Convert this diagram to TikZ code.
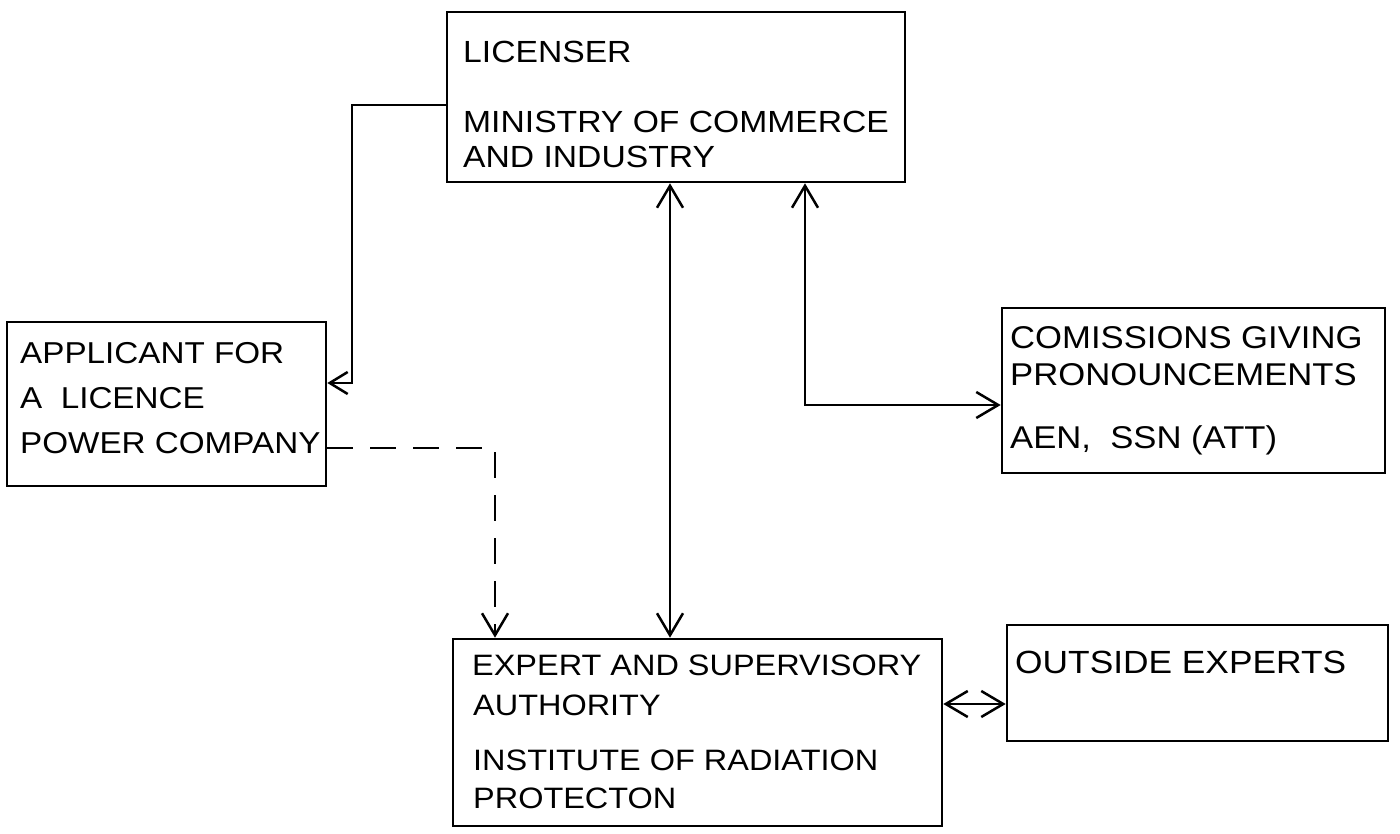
\documentclass[tikz,border=0pt]{standalone}
\usepackage{fontspec}
\newfontfamily\lett{Liberation Sans}[FakeStretch=1.1]
\usetikzlibrary{arrows.meta}
\begin{document}
\begin{tikzpicture}[x=1pt,y=-1pt,
  box/.style={draw, line width=2.6pt, inner sep=0pt, rectangle},
  lbl/.style={anchor=base west, inner sep=0pt, font=\lett\fontsize{#1}{#1}\selectfont},
  conn/.style={line width=2.5pt},
  >={Straight Barb[length=22pt,width=26pt]},
  dashline/.style={line width=2.5pt, dash pattern=on 26pt off 17pt}]
\useasboundingbox (0,0) rectangle (1400,834);
% boxes
\node[box, minimum width=458pt, minimum height=170pt] (lic) at (676,97) {};
\node[box, minimum width=319pt, minimum height=164pt] (app) at (166.5,404) {};
\node[box, minimum width=383pt, minimum height=165pt] (com) at (1193.5,390.5) {};
\node[box, minimum width=489pt, minimum height=187pt] (exp) at (697.5,732.5) {};
\node[box, minimum width=381pt, minimum height=116pt] (out) at (1197.5,683) {};
% texts
\node[lbl=30.6] (licA) at (463,63) {LICENSER};
\node[lbl=30.6] (licB) at (463,133) {MINISTRY OF COMMERCE};
\node[lbl=30.6] (licC) at (463,168) {AND INDUSTRY};
\node[lbl=30.2] (appA) at (20,363) {APPLICANT FOR};
\node[lbl=30.2] (appB) at (20,408) {A\ \ LICENCE};
\node[lbl=30.2] (appC) at (20,453) {POWER COMPANY};
\node[lbl=31.5] (comA) at (1010,348) {COMISSIONS GIVING};
\node[lbl=31.5] (comB) at (1010,385) {PRONOUNCEMENTS};
\node[lbl=31.5] (comC) at (1010,448) {AEN,\ \ SSN (ATT)};
\node[lbl=29.5] (expA) at (472,675) {EXPERT AND SUPERVISORY};
\node[lbl=29.5] (expB) at (473,715) {AUTHORITY};
\node[lbl=29.5] (expC) at (473,770) {INSTITUTE OF RADIATION};
\node[lbl=29.5] (expD) at (473,808) {PROTECTON};
\node[lbl=32.1] (outA) at (1015,673) {OUTSIDE EXPERTS};
% connector corners
\coordinate (c1) at (352,105);
\coordinate (c2) at (352,383);
\coordinate (d1) at (495,448);
\coordinate (m1) at (670,400);
\coordinate (r1) at (805,405);
\coordinate (e1) at (970,704);
% connectors
\draw[conn, -{Straight Barb[length=18pt,width=22pt]}] (lic.west |- c1) -- (c1) -- (c2) -- (app.east |- c2);
\draw[dashline, ->] (app.east |- d1) -- (d1) -- (exp.north -| d1);
\draw[conn, <->] (lic.south -| m1) -- (exp.north -| m1);
\draw[conn, <->] (lic.south -| r1) -- (r1) -- (com.west |- r1);
\draw[conn, <->] (exp.east |- e1) -- (out.west |- e1);
\end{tikzpicture}
\end{document}
